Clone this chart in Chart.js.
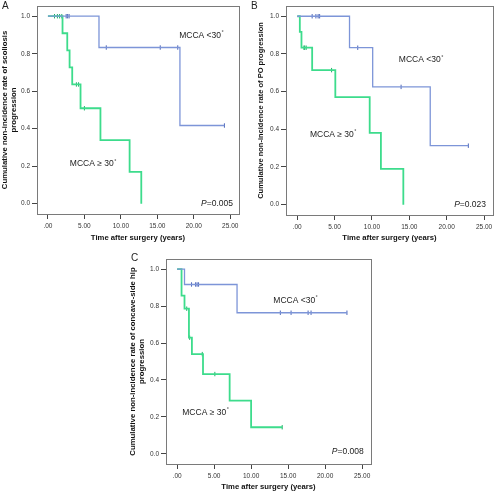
<!DOCTYPE html>
<html>
<head>
<meta charset="utf-8">
<script src="https://cdn.jsdelivr.net/npm/chart.js@4.4.0/dist/chart.umd.min.js"></script>
<style>
  body { margin: 0; background: #fff; }
  canvas { position: absolute; }
  .tag { position: absolute; font: 10px 'Liberation Sans', Arial, sans-serif; color: #222; line-height: 10px; }
</style>
</head>
<body>
<canvas id="chartA" width="250" height="245" style="left:0;top:0"></canvas>
<canvas id="chartB" width="250" height="245" style="left:250px;top:0"></canvas>
<canvas id="chartC" width="260" height="249" style="left:120px;top:245px"></canvas>
<div class="tag" style="left:2px;top:1px">A</div>
<div class="tag" style="left:251px;top:1px">B</div>
<div class="tag" style="left:131px;top:253px">C</div>
<script>
const xTicks = [0, 5, 10, 15, 20, 25];
const yTicks = [0, 0.2, 0.4, 0.6, 0.8, 1.0];

// A - scoliosis progression
const aLowTime = [0, 7.0, 18.1, 24.2];
const aLowSurv = [1, 0.833, 0.417, 0.417];
const aLowCens = [2.5, 2.7, 2.9, 8.0, 15.4, 17.8, 24.2];
const aHighTime = [0, 2.0, 2.65, 2.97, 3.33, 4.47, 7.2, 11.2, 12.8];
const aHighSurv = [1, 0.909, 0.818, 0.727, 0.636, 0.509, 0.339, 0.170, 0];
const aHighCens = [0.9, 1.3, 1.6, 1.9, 3.9, 4.2, 5.0];

// B - PO progression
const bLowTime = [0, 7.0, 10.1, 17.8, 22.9];
const bLowSurv = [1, 0.833, 0.625, 0.313, 0.313];
const bLowCens = [2.0, 2.5, 2.8, 3.0, 8.1, 13.9, 22.9];
const bHighTime = [0, 0.35, 0.57, 2.0, 5.1, 9.7, 11.2, 14.2];
const bHighSurv = [1, 0.917, 0.833, 0.714, 0.571, 0.381, 0.190, 0];
const bHighCens = [0.9, 1.0, 1.2, 4.6];

// C - concave-side hip progression
const cLowTime = [0, 1.0, 8.1, 22.95];
const cLowSurv = [1, 0.917, 0.764, 0.764];
const cLowCens = [1.95, 2.5, 2.7, 2.9, 13.95, 15.4, 17.7, 18.1, 22.95];
const cHighTime = [0, 0.6, 1.0, 1.6, 2.0, 3.5, 7.1, 10.0, 14.2];
const cHighSurv = [1, 0.857, 0.786, 0.629, 0.540, 0.432, 0.288, 0.144, 0.144];
const cHighCens = [1.3, 1.7, 3.4, 5.1, 14.2];

const BLUE = '#7d95d8';
const BLUE_DARK = '#4a64b8';
const GREEN = '#3ddc8c';
const GREEN_DARK = '#1fae66';
const FONT = "'Liberation Sans', Arial, sans-serif";
const NARROW = "'Liberation Sans Narrow', 'Arial Narrow', 'Liberation Sans', Arial, sans-serif";

function stepPoints(times, surv) {
    return times.map((t, i) => ({ x: t, y: surv[i] }));
}

function censorPoints(cens, times, surv) {
    return cens.map(t => {
        let k = 0;
        for (let i = 0; i < times.length; i++) {
            if (times[i] <= t) k = i;
        }
        return { x: t, y: surv[k] };
    });
}

const framePlugin = {
    id: 'frame',
    afterDraw(chart) {
        const { ctx, chartArea: a, scales } = chart;
        ctx.save();
        ctx.strokeStyle = '#7a7a7a';
        ctx.lineWidth = 1;
        ctx.strokeRect(Math.round(a.left) + 0.5, Math.round(a.top) + 0.5,
            Math.round(a.right - a.left), Math.round(a.bottom - a.top));

        const notes = chart.options.plugins.frame.notes;
        ctx.fillStyle = '#222';
        ctx.textBaseline = 'middle';
        notes.forEach(n => {
            let x = scales.x.getPixelForValue(n.x);
            const y = scales.y.getPixelForValue(n.y);
            if (n.italic) {
                ctx.font = 'italic 8.5px ' + FONT;
                ctx.fillText(n.italic, x, y);
                x += ctx.measureText(n.italic).width;
            }
            ctx.font = '8.5px ' + FONT;
            ctx.fillText(n.text, x, y);
            if (n.deg) {
                x += ctx.measureText(n.text).width + 0.5;
                ctx.font = '5.5px ' + FONT;
                ctx.fillText('°', x, y - 3);
            }
        });
        ctx.restore();
    }
};

function makeChart(id, cfg) {
    const ctx = document.getElementById(id).getContext('2d');
    return new Chart(ctx, {
        type: 'line',
        data: {
            datasets: [
                {
                    data: stepPoints(cfg.lowTime, cfg.lowSurv),
                    borderColor: BLUE,
                    borderWidth: 1.3,
                    stepped: true,
                    pointRadius: 0,
                    fill: false,
                },
                {
                    data: stepPoints(cfg.highTime, cfg.highSurv),
                    borderColor: GREEN,
                    borderWidth: 1.8,
                    stepped: true,
                    pointRadius: 0,
                    fill: false,
                },
                {
                    data: censorPoints(cfg.lowCens, cfg.lowTime, cfg.lowSurv),
                    showLine: false,
                    pointStyle: 'line',
                    rotation: 90,
                    pointRadius: 2.2,
                    borderColor: BLUE_DARK,
                    pointBorderColor: BLUE_DARK,
                    pointBorderWidth: 1,
                },
                {
                    data: censorPoints(cfg.highCens, cfg.highTime, cfg.highSurv),
                    showLine: false,
                    pointStyle: 'line',
                    rotation: 90,
                    pointRadius: 2.2,
                    borderColor: GREEN_DARK,
                    pointBorderColor: GREEN_DARK,
                    pointBorderWidth: 1,
                }
            ]
        },
        options: {
            responsive: false,
            animation: false,
            layout: {
                padding: { left: 0, top: cfg.top, right: cfg.right, bottom: 0 }
            },
            scales: {
                x: {
                    type: 'linear',
                    min: -1.5,
                    max: 26.2,
                    afterBuildTicks: s => { s.ticks = xTicks.map(v => ({ value: v })); },
                    afterFit: s => { s.height = cfg.xHeight; },
                    border: { display: false },
                    grid: { drawOnChartArea: false, drawTicks: true, tickLength: 5, color: '#444' },
                    ticks: {
                        padding: 3,
                        color: '#333',
                        maxRotation: 0,
                        autoSkip: false,
                        font: { size: 6.5, family: FONT },
                        callback: v => v === 0 ? '.00' : v.toFixed(2)
                    },
                    title: {
                        display: true,
                        text: 'Time after surgery (years)',
                        color: '#111',
                        font: { size: 7.7, weight: 'bold', family: NARROW },
                        padding: { top: 0, bottom: 2 }
                    }
                },
                y: {
                    min: -0.055,
                    max: 1.055,
                    afterBuildTicks: s => { s.ticks = yTicks.map(v => ({ value: v })); },
                    afterFit: s => { s.width = cfg.yWidth; },
                    border: { display: false },
                    grid: { drawOnChartArea: false, drawTicks: true, tickLength: 5, color: '#444' },
                    ticks: {
                        padding: 2,
                        color: '#333',
                        font: { size: 6.5, family: FONT },
                        callback: v => v.toFixed(1)
                    },
                    title: {
                        display: true,
                        text: cfg.yTitle,
                        color: '#111',
                        font: { size: cfg.yTitleSize, weight: 'bold', family: NARROW, lineHeight: 1.15 },
                        padding: { top: cfg.yTitlePad, bottom: 0 }
                    }
                }
            },
            plugins: {
                legend: { display: false },
                tooltip: { enabled: false },
                frame: { notes: cfg.notes }
            }
        },
        plugins: [framePlugin]
    });
}

makeChart('chartA', {
    lowTime: aLowTime, lowSurv: aLowSurv, lowCens: aLowCens,
    highTime: aHighTime, highSurv: aHighSurv, highCens: aHighCens,
    top: 4, right: 11, yWidth: 37, xHeight: 31, yTitlePad: 0.8, yTitleSize: 7.8,
    yTitle: ['Cumulative non-incidence rate of scoliosis', 'progression'],
    notes: [
        { x: 18.0, y: 0.898, text: 'MCCA <30', deg: true },
        { x: 3.0, y: 0.211, text: 'MCCA \u2265 30', deg: true },
        { x: 21.0, y: 0.0, italic: 'P', text: '=0.005' }
    ]
});

makeChart('chartB', {
    lowTime: bLowTime, lowSurv: bLowSurv, lowCens: bLowCens,
    highTime: bHighTime, highSurv: bHighSurv, highCens: bHighCens,
    top: 4, right: 7, yWidth: 36, xHeight: 30, yTitlePad: 6.5, yTitleSize: 7.5,
    yTitle: 'Cumulative non-incidence rate of PO progression',
    notes: [
        { x: 13.6, y: 0.767, text: 'MCCA <30', deg: true },
        { x: 1.7, y: 0.374, text: 'MCCA \u2265 30', deg: true },
        { x: 21.0, y: 0.0, italic: 'P', text: '=0.023' }
    ]
});

makeChart('chartC', {
    lowTime: cLowTime, lowSurv: cLowSurv, lowCens: cLowCens,
    highTime: cHighTime, highSurv: cHighSurv, highCens: cHighCens,
    top: 14, right: 9, yWidth: 46, xHeight: 30, yTitlePad: 8.8, yTitleSize: 7.8,
    yTitle: ['Cumulative non-incidence rate of concave-side hip', 'progression'],
    notes: [
        { x: 13.0, y: 0.831, text: 'MCCA <30', deg: true },
        { x: 0.7, y: 0.225, text: 'MCCA \u2265 30', deg: true },
        { x: 20.9, y: 0.014, italic: 'P', text: '=0.008' }
    ]
});
</script>
</body>
</html>
